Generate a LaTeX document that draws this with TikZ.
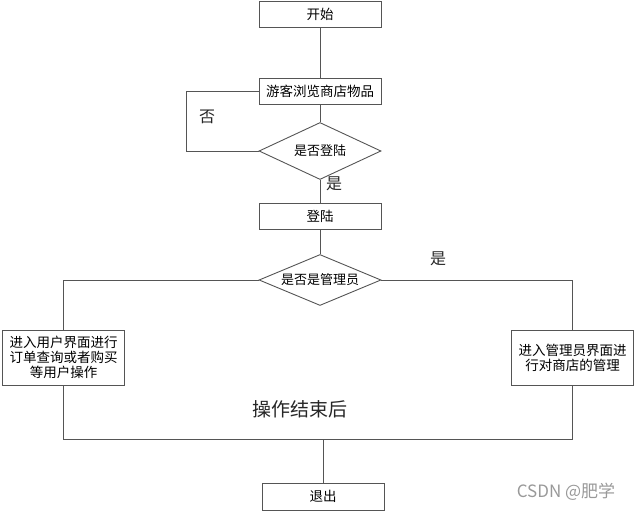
\documentclass[tikz,border=0pt]{standalone}
\usepackage{fontspec}
\setmainfont{Noto Sans CJK SC}
\newfontfamily\cjk{Noto Sans CJK SC}
\usetikzlibrary{shapes.geometric}
\definecolor{linec}{HTML}{555555}
\tikzset{
  x=1pt, y=-1pt,
  box/.style={draw=linec, line width=0.9pt, minimum width=122pt, minimum height=26pt, inner sep=1pt, font=\cjk\fontsize{13.5}{15.5}\selectfont, align=center},
  bigbox/.style={box, minimum height=55pt, font=\cjk\fontsize{13.5}{15}\selectfont},
  dec/.style={draw=linec, line width=0.9pt, diamond, aspect=2.2, minimum width=122pt, minimum height=53pt, inner sep=0pt, font=\cjk\fontsize{13}{15}\selectfont},
  conn/.style={draw=linec, line width=0.9pt},
  lbl/.style={font=\cjk\fontsize{16}{18}\selectfont, text=black!85},
}
\begin{document}
\begin{tikzpicture}
\useasboundingbox (0,0) rectangle (636,511);
\node[box] (start) at (320,14) {开始};
\node[box] (browse) at (320,91) {游客浏览商店物品};
\node[dec, minimum height=57pt] (login?) at (320,151) {是否登陆};
\node[box] (login) at (320,216) {登陆};
\node[dec, minimum height=51pt] (admin?) at (320,280) {是否是管理员};
\node[bigbox] (user) at (63.5,357.5) {进入用户界面进行\\订单查询或者购买\\等用户操作};
\node[bigbox] (mgr) at (572.5,357.5) {进入管理员界面进\\行对商店的管理};
\node[box, minimum height=27pt] (exit) at (323,496.5) {退出};
\coordinate (loopa) at (186,91);
\coordinate (loopb) at (186,151);
\coordinate (join) at (323,439);

\draw[conn] (start) -- (browse);
\draw[conn] (browse) -- (login?);
\draw[conn] (browse.west) -- (loopa) -- (loopb) -- (login?.west);
\draw[conn] (login?) -- (login);
\draw[conn] (login) -- (admin?);
\draw[conn] (admin?.west) -| (user.north);
\draw[conn] (admin?.east) -| (mgr.north);
\draw[conn] (user.south) |- (join);
\draw[conn] (mgr.south) |- (join);
\draw[conn] (join) -- (exit);

\node[lbl] (no) at (207,117) {否};
\node[lbl] (yes1) at (334,184) {是};
\node[lbl] (yes2) at (438,259) {是};
\node[lbl, font=\cjk\fontsize{19}{21}\selectfont] (done) at (300,409) {操作结束后};
\node[font=\cjk\fontsize{17}{19}\selectfont, text=black!40] (wm) at (566,492) {CSDN @肥学};
\end{tikzpicture}
\end{document}
